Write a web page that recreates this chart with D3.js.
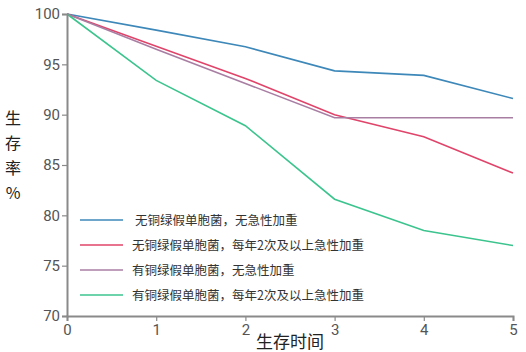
<!DOCTYPE html>
<html>
<head>
<meta charset="utf-8">
<script src="https://cdn.jsdelivr.net/npm/d3@7"></script>
<style>
  body { margin: 0; background: #fff; }
  svg { display: block; }
  .tick text { font-family: "Liberation Sans Narrow", Roboto, sans-serif; fill: #555; }
</style>
</head>
<body>
<svg width="526" height="352"></svg>
<script>
// data
let years = [0, 1, 2, 3, 4, 5];
let noPaNoExac = [100, 98.4, 96.75, 94.35, 93.9, 91.6];
let noPaExac = [100, 96.8, 93.6, 90.0, 87.8, 84.2];
let paNoExac = [100, 96.5, 93.1, 89.7, 89.7, 89.7];
let paExac = [100, 93.4, 88.9, 81.6, 78.5, 77.0];
let seriesNames = [
  "无铜绿假单胞菌，无急性加重",
  "无铜绿假单胞菌，每年2次及以上急性加重",
  "有铜绿假单胞菌，无急性加重",
  "有铜绿假单胞菌，每年2次及以上急性加重"
];
let colors = ["#3d88b9", "#e0446a", "#a87ea3", "#3cc48e"];
let yTicks = [70, 75, 80, 85, 90, 95, 100];

let series = [noPaNoExac, noPaExac, paNoExac, paExac];

let svg = d3.select("svg");

let x = d3.scaleLinear().domain([0, 5]).range([67, 513]);
let y = d3.scaleLinear().domain([70, 100]).range([316, 14]);

// lines
let line = d3.line()
  .x((d, i) => x(years[i]))
  .y(d => y(d));

svg.selectAll("path.series")
  .data(series)
  .enter()
  .append("path")
    .attr("class", "series")
    .attr("fill", "none")
    .attr("stroke", (d, i) => colors[i])
    .attr("stroke-width", 1.6)
    .attr("d", line);

// axes
let yAxis = svg.append("g")
  .attr("transform", "translate(67,0)")
  .call(d3.axisLeft(y).tickValues(yTicks).tickSize(5).tickPadding(2));

let xAxis = svg.append("g")
  .attr("transform", "translate(0,316)")
  .call(d3.axisBottom(x).tickValues(years).tickFormat(d3.format("d")).tickSize(5).tickPadding(3));

[yAxis, xAxis].forEach(g => {
  g.select(".domain").attr("stroke", "#8a8a8a").attr("stroke-width", 2);
  g.selectAll(".tick line").attr("stroke", "#8a8a8a").attr("stroke-width", 1.2);
  g.selectAll(".tick text").attr("font-size", 15);
});

// axis titles
let yTitle = ["生", "存", "率", "%"];
svg.append("g")
  .selectAll("text")
  .data(yTitle)
  .enter()
  .append("text")
    .attr("x", 13)
    .attr("y", (d, i) => 124 + i * 25)
    .attr("text-anchor", "middle")
    .attr("font-family", "Noto Sans CJK SC, sans-serif")
    .attr("font-size", 16)
    .attr("fill", "#222")
    .text(d => d);

svg.append("text")
  .attr("x", 290)
  .attr("y", 348)
  .attr("text-anchor", "middle")
  .attr("font-family", "Noto Sans CJK SC, sans-serif")
  .attr("font-size", 17)
  .attr("fill", "#222")
  .text("生存时间");

// legend
let legend = svg.append("g")
  .selectAll("g")
  .data(seriesNames)
  .enter()
  .append("g")
    .attr("transform", (d, i) => "translate(80," + [220, 245, 270, 295][i] + ")");

legend.append("line")
  .attr("x1", 0).attr("x2", 43)
  .attr("stroke", (d, i) => colors[i])
  .attr("stroke-width", 1.6);

legend.append("text")
  .attr("x", (d, i) => i === 0 ? 55 : 52)
  .attr("y", 4.5)
  .attr("font-family", "Noto Sans CJK SC, sans-serif")
  .attr("font-size", 12.5)
  .attr("fill", "#333")
  .text(d => d);
</script>
</body>
</html>
